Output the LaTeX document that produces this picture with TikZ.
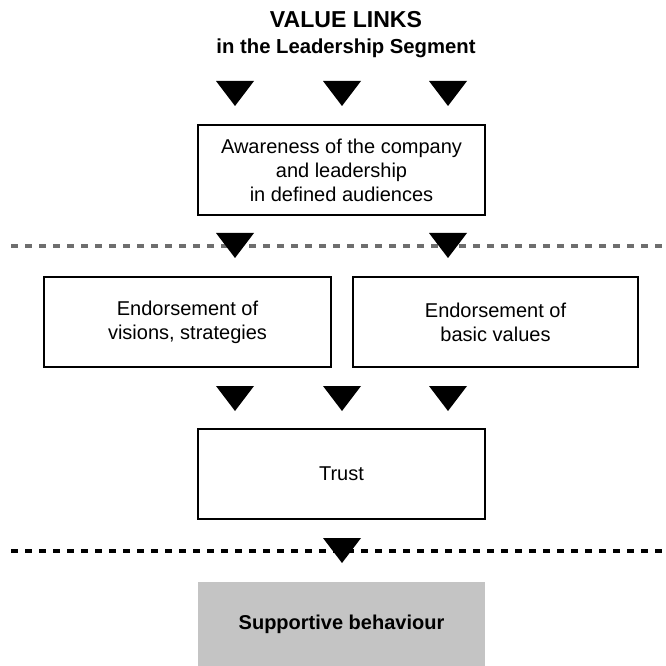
\documentclass[tikz,border=0pt]{standalone}
\usepackage{fontspec}
\setmainfont{Liberation Sans}
\definecolor{dashgray}{HTML}{6E6E6E}
\definecolor{boxgray}{HTML}{C4C4C4}
\newcommand{\downtri}[2]{\fill[black] (#1-19,#2) -- (#1+19,#2) -- (#1,#2+25) -- cycle;}
\begin{document}
\begin{tikzpicture}[x=0.75pt,y=-0.75pt,
  box/.style={draw=black, line width=1.5pt, fill=white, align=center, font=\fontsize{15pt}{18pt}\selectfont, inner sep=0pt},
  wide/.style={minimum width=215.25pt, minimum height=67.5pt},
  sep/.style={line width=3pt, dash pattern=on 5.25pt off 5.25pt}]
\useasboundingbox (0,0) rectangle (665,666);
% title
\node[anchor=base, font=\bfseries\fontsize{17.3pt}{20pt}\selectfont] (title) at (346,28) {VALUE LINKS};
\node[anchor=base, font=\bfseries\fontsize{15.2pt}{18pt}\selectfont] (subtitle) at (346,54) {in the Leadership Segment};
% separators
\draw[sep, dashgray] (11,246) -- (662,246);
\draw[sep, black] (11,551) -- (662,551);
% boxes
\node[box, wide] (aware) at (341.5,170) {Awareness of the company\\and leadership\\in defined audiences};
\node[box, wide] (vision) at (187.5,322) {Endorsement of\\visions, strategies};
\node[box, minimum width=213.75pt, minimum height=67.5pt] (values) at (495.5,322) {Endorsement of\\basic values};
\node[box, wide] (trust) at (341.5,474) {Trust};
\node[fill=boxgray, minimum width=215.25pt, minimum height=63pt, inner sep=0pt, font=\bfseries\fontsize{15pt}{18pt}\selectfont] (support) at (341.5,624) {Supportive behaviour};
% triangles
\downtri{235}{81}\downtri{342}{81}\downtri{448}{81}
\downtri{235}{233}\downtri{448}{233}
\downtri{235}{386}\downtri{342}{386}\downtri{448}{386}
\downtri{342}{538}
\end{tikzpicture}
\end{document}
